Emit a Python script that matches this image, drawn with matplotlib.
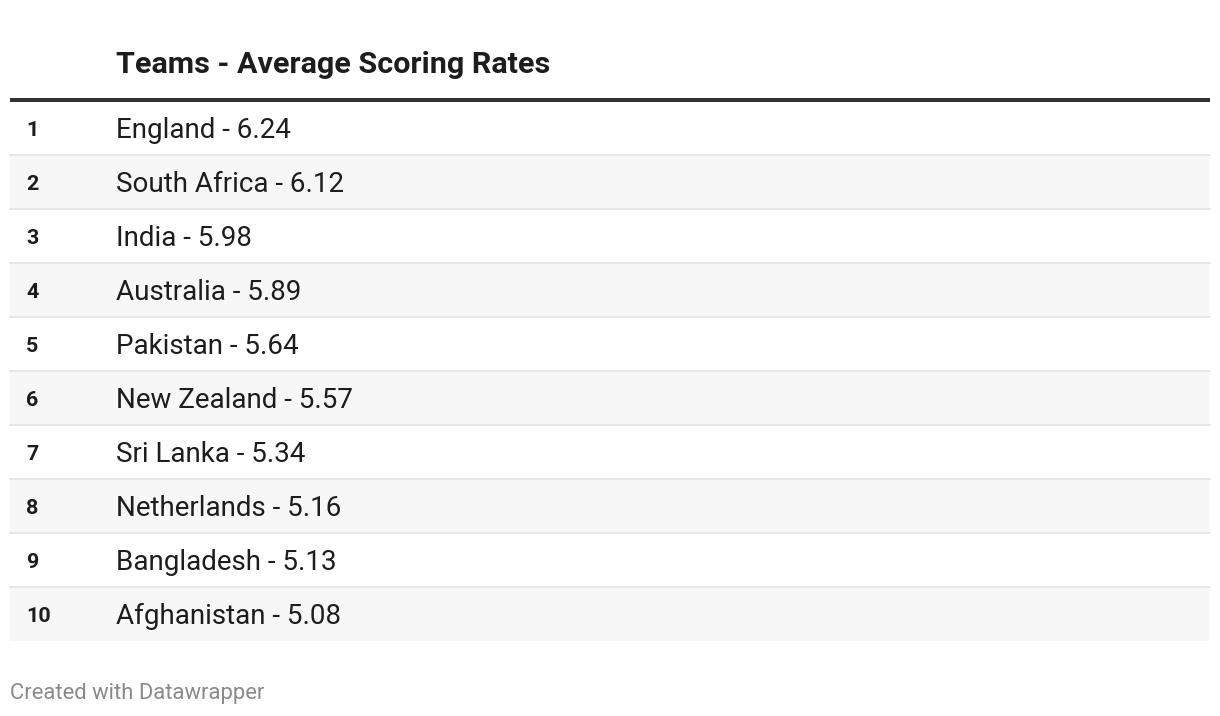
import matplotlib
matplotlib.use("Agg")
import matplotlib.pyplot as plt

title = "Teams - Average Scoring Rates"
teams = ["England", "South Africa", "India", "Australia", "Pakistan",
         "New Zealand", "Sri Lanka", "Netherlands", "Bangladesh", "Afghanistan"]
rates = [6.24, 6.12, 5.98, 5.89, 5.64, 5.57, 5.34, 5.16, 5.13, 5.08]
ranks = list(range(1, len(teams) + 1))
footer = "Created with Datawrapper"

W, H = 1220, 716
fig = plt.figure(figsize=(W / 100, H / 100), dpi=100)
ax = fig.add_axes([0, 0, 1, 1])
ax.set_xlim(0, W)
ax.set_ylim(H, 0)
ax.axis("off")

plt.rcParams["font.family"] = ["Roboto", "DejaVu Sans"]
PX = 0.72  # px -> pt at 100 dpi
FAM = ["Roboto", "DejaVu Sans"]

left, right = 10, 1210
top0 = 101
rh = 54

ax.text(116, 65, title, fontsize=30.5 * PX, fontweight="bold", color="#1d1d1d",
        va="center", ha="left", family=FAM)
ax.plot([left, right], [100, 100], color="#333333", lw=4 * PX, solid_capstyle="butt")

for i, (r, t, v) in enumerate(zip(ranks, teams, rates)):
    y0 = top0 + rh * i
    if i % 2 == 1:
        ax.fill_between([left, right], y0, y0 + rh, color="#f7f7f7", lw=0)
    if i < len(teams) - 1:
        ax.plot([left, right], [y0 + rh, y0 + rh], color="#e3e3e3", lw=1.6 * PX)
    yc = y0 + rh / 2
    ax.text(26, yc + 2.5, str(r), fontsize=21.5 * PX, fontweight="bold", color="#1d1d1d",
            va="center", ha="left", family=FAM)
    ax.text(116, yc + 2, f"{t} - {v:.2f}", fontsize=27.8 * PX, color="#1d1d1d",
            va="center", ha="left", family=FAM)

ax.text(10, 693, footer, fontsize=22 * PX, color="#8a8a8a", va="center", ha="left",
        family=FAM)

fig.savefig("out.png", dpi=100, facecolor="white")
